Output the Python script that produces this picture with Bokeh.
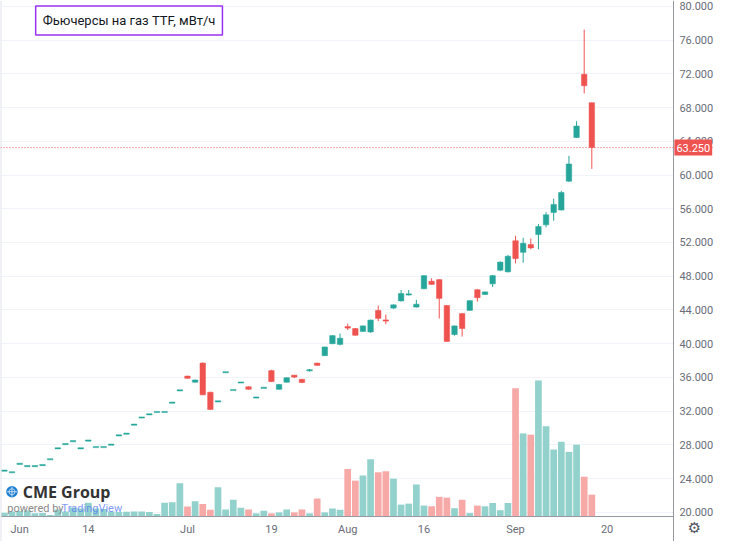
import numpy as np
from bokeh.plotting import figure
from bokeh.models import Range1d, FixedTicker, PrintfTickFormatter, Span, Label, BoxAnnotation
from bokeh.embed import file_html
from bokeh.resources import INLINE

# ---------------- data ----------------
title_text = "Фьючерсы на газ TTF, мВт/ч"
last_price = 63.25
last_price_text = "63.250"

opens = [24.95, 24.76, 25.76, 25.49, 25.49, 25.61, 26.30, 27.60, 28.10, 28.44,
         27.60, 28.52, 27.75, 27.75, 28.03, 29.13, 29.33, 30.40, 31.25, 31.63,
         31.90, 31.90, 33.01, 34.47, 36.16, 35.43, 37.70, 34.25, 33.16, 36.62,
         34.51, 35.40, 34.89, 33.62, 34.77, 36.81, 34.59, 35.43, 36.27, 35.78,
         36.83, 37.70, 38.58, 40.00, 39.92, 42.03, 41.80, 41.46, 41.39, 43.95,
         42.80, 44.22, 45.07, 45.80, 44.34, 46.52, 47.41, 47.60, 44.53, 41.08,
         43.57, 43.95, 46.40, 45.83, 47.10, 48.71, 48.52, 52.21, 50.83, 51.75,
         52.94, 54.09, 55.55, 55.85, 59.27, 64.45, 71.94, 68.57]

highs = [24.95, 24.76, 25.76, 25.49, 25.49, 25.61, 26.30, 27.60, 28.10, 28.44,
         27.60, 28.52, 27.75, 27.75, 28.03, 29.13, 29.33, 30.40, 31.25, 31.63,
         31.90, 31.90, 33.01, 34.47, 36.20, 35.75, 37.77, 34.30, 33.16, 36.62,
         34.51, 35.40, 34.95, 33.62, 34.77, 36.90, 35.20, 36.00, 36.30, 35.82,
         37.00, 37.75, 39.65, 41.00, 41.20, 42.38, 41.85, 42.15, 42.85, 44.53,
         43.46, 44.65, 46.37, 46.37, 45.20, 48.10, 47.76, 47.65, 44.60, 42.15,
         43.65, 45.15, 46.50, 46.18, 48.15, 49.75, 50.52, 52.79, 52.56, 52.48,
         54.20, 55.60, 57.20, 58.12, 62.27, 66.38, 77.24, 68.60]

lows = [24.95, 24.76, 25.76, 25.49, 25.49, 25.61, 26.30, 27.60, 28.10, 28.44,
        27.60, 28.52, 27.75, 27.75, 28.03, 29.13, 29.33, 30.40, 31.25, 31.63,
        31.90, 31.90, 33.01, 34.47, 35.85, 35.40, 33.90, 32.15, 33.16, 36.62,
        34.51, 35.40, 34.55, 33.62, 34.77, 35.45, 34.55, 35.40, 35.93, 35.32,
        36.70, 37.40, 38.55, 39.95, 39.80, 41.62, 40.95, 41.40, 41.30, 42.69,
        42.31, 44.15, 45.00, 45.72, 44.30, 46.45, 47.00, 42.98, 40.20, 40.95,
        40.85, 43.90, 44.99, 45.80, 46.72, 48.60, 48.45, 49.52, 49.60, 51.20,
        51.20, 53.80, 54.58, 55.80, 59.20, 64.40, 69.67, 60.73]

closes = [24.95, 24.76, 25.76, 25.49, 25.49, 25.61, 26.30, 27.60, 28.10, 28.44,
          27.60, 28.52, 27.75, 27.75, 28.03, 29.13, 29.33, 30.40, 31.25, 31.63,
          31.90, 31.90, 33.01, 34.47, 35.89, 35.70, 33.94, 32.21, 33.16, 36.62,
          34.51, 35.40, 34.59, 33.62, 34.77, 35.51, 35.17, 35.97, 36.04, 35.40,
          36.87, 37.43, 39.61, 40.96, 40.65, 41.85, 41.00, 42.11, 42.80, 43.00,
          42.70, 44.61, 45.95, 45.88, 44.68, 48.07, 47.03, 45.37, 40.27, 42.11,
          41.80, 45.10, 45.45, 46.14, 48.07, 49.68, 50.37, 50.09, 51.90, 51.36,
          53.90, 55.28, 56.51, 57.92, 61.31, 65.80, 70.59, 63.25]

volumes = [370, 500, 550, 600, 300, 330, 130, 700, 500, 900,
           800, 1400, 800, 750, 500, 430, 470, 500, 500, 430,
           230, 1400, 1450, 3400, 1000, 1550, 1270, 680, 3000, 700,
           1700, 870, 700, 300, 570, 300, 400, 700, 400, 700,
           300, 1830, 400, 800, 670, 4870, 3670, 4200, 5870, 4530,
           4630, 3870, 1200, 1300, 3270, 1100, 1030, 2000, 1920, 830,
           1700, 330, 1100, 1030, 1370, 630, 1370, 13170, 8530, 8400,
           13970, 9270, 6870, 7670, 6630, 7370, 4070, 2230]

# trading-day positions of the time-axis labels
tick_pos = [2, 11, 24, 35, 45, 55, 67, 79]
tick_labels = ["Jun", "14", "Jul", "19", "Aug", "16", "Sep", "20"]
price_ticks = list(range(20, 81, 4))

# ---------------- layout / styling ----------------
UP, DOWN = "#26a69a", "#ef5350"
FONT = "Roboto"
AXIS_TXT = "#6a6d78"
AXIS_LINE = "#9598a1"

X_START, X_STOP = -0.51, 93.08      # whole canvas, incl. price-scale column
AXIS_X = 87.69                      # where the price scale starts
Y_START, Y_STOP = 16.55, 80.69      # whole canvas, incl. time-scale row
BASE = 19.54                        # bottom of the price pane

o = np.array(opens); c = np.array(closes)
h = np.array(highs); l = np.array(lows)
x = np.arange(len(o))
up = c >= o
col = np.where(up, UP, DOWN)
vcol = np.where(up, "#93d2cc", "#f7a9a7")
btop = np.maximum(o, c)
bbot = np.minimum(o, c)
minh = 0.14
flat = (btop - bbot) < minh
mid = (btop + bbot) / 2
btop = np.where(flat, mid + minh / 2, btop)
bbot = np.where(flat, mid - minh / 2, bbot)

p = figure(width=714, height=541,
           x_range=Range1d(X_START, X_STOP), y_range=Range1d(Y_START, Y_STOP),
           y_axis_location="right", output_backend="svg", toolbar_location=None,
           min_border_left=0, min_border_top=0, min_border_right=0, min_border_bottom=0)
p.background_fill_color = "white"
p.border_fill_color = "white"
p.outline_line_color = None

vol_top = max(volumes) * 3.8
vol_start = -vol_top * (BASE - Y_START) / (Y_STOP - BASE)
p.extra_y_ranges = {"vol": Range1d(vol_start, vol_top)}

# keep grid lines out of the price-scale column
p.add_layout(BoxAnnotation(left=AXIS_X, fill_color="white", fill_alpha=1.0,
                           line_color=None, level="underlay"))
# thin pane border on the left edge
p.add_layout(Span(location=X_START, dimension="height", line_color="#e0e3eb", line_width=2))

# volume
p.vbar(x=x, top=volumes, bottom=0, width=0.88, color=vcol, line_color=None, y_range_name="vol")

# logo overlay
p.scatter(x=[0.99], y=[22.45], size=11.5, marker="circle", fill_color="#1f7fd0", line_color=None)
p.scatter(x=[0.99], y=[22.45], size=10, marker="cross", line_color="white", line_width=0.7)
p.scatter(x=[0.99], y=[22.45], size=6, marker="circle", fill_color=None, line_color="white", line_width=0.6)
p.add_layout(Label(x=2.4, y=22.4, text="CME Group", text_font="Open Sans", text_font_size="16px",
                   text_font_style="bold", text_color="#333333", text_baseline="middle"))
p.add_layout(Label(x=0.38, y=20.5, text="powered by", text_font=FONT, text_font_size="11px",
                   text_color="#8a8a8a", text_baseline="middle"))
p.add_layout(Label(x=7.5, y=20.5, text="TradingView", text_font=FONT, text_font_size="11px",
                   text_color="#5b7cf5", text_alpha=0.8, text_baseline="middle"))

# candles
p.segment(x0=x, x1=x, y0=l, y1=h, color=col, line_width=1)
p.vbar(x=x, top=btop, bottom=bbot, width=0.72, fill_color=col, line_color=col, line_width=0.5)

# last price line
p.add_layout(Span(location=last_price, dimension="width", line_color=DOWN,
                  line_dash="1 2", line_width=1, line_alpha=1.0))

# price scale (right axis, pinned at the pane edge)
ya = p.yaxis[0]
ya.fixed_location = AXIS_X
ya.ticker = FixedTicker(ticks=price_ticks)
ya.formatter = PrintfTickFormatter(format="%.3f")
ya.major_tick_out = 0
ya.major_tick_in = 0
ya.minor_tick_out = 0
ya.minor_tick_in = 0
ya.major_label_standoff = 6
ya.axis_line_color = AXIS_LINE
ya.major_label_text_font = FONT
ya.major_label_text_font_size = "11px"
ya.major_label_text_color = AXIS_TXT

# time scale (bottom axis, pinned at the pane bottom)
xa = p.xaxis[0]
xa.fixed_location = BASE
xa.bounds = (X_START, AXIS_X)
xa.ticker = FixedTicker(ticks=tick_pos)
xa.major_label_overrides = {pos: lab for pos, lab in zip(tick_pos, tick_labels)}
xa.major_tick_out = 0
xa.major_tick_in = 0
xa.minor_tick_out = 0
xa.minor_tick_in = 0
xa.major_label_standoff = 7
xa.axis_line_color = AXIS_LINE
xa.major_label_text_font = FONT
xa.major_label_text_font_size = "11px"
xa.major_label_text_color = AXIS_TXT

p.xgrid.visible = False
p.ygrid.grid_line_color = "#f0f3fa"
p.ygrid.grid_line_width = 1

# title box
p.add_layout(Label(x=4.1, y=78.33, text=title_text, text_font=FONT, text_font_size="13px",
                   text_color="#131722", text_baseline="middle",
                   border_line_color="#9932f0", border_line_width=1.5,
                   background_fill_color="white", padding=7))

# last price tag on the price scale
p.add_layout(Label(x=AXIS_X, y=last_price, x_offset=1, text=last_price_text, text_font=FONT,
                   text_font_size="11px", text_color="white", text_baseline="middle",
                   background_fill_color=DOWN, padding=(2, 4)))

# settings gear in the corner
p.add_layout(Label(x=AXIS_X, y=BASE, x_offset=21, y_offset=-12, text="⚙", text_font="DejaVu Sans",
                   text_font_size="15px", text_color="#50535e", text_align="center",
                   text_baseline="middle"))

open("out.html", "w").write(file_html(p, INLINE))
